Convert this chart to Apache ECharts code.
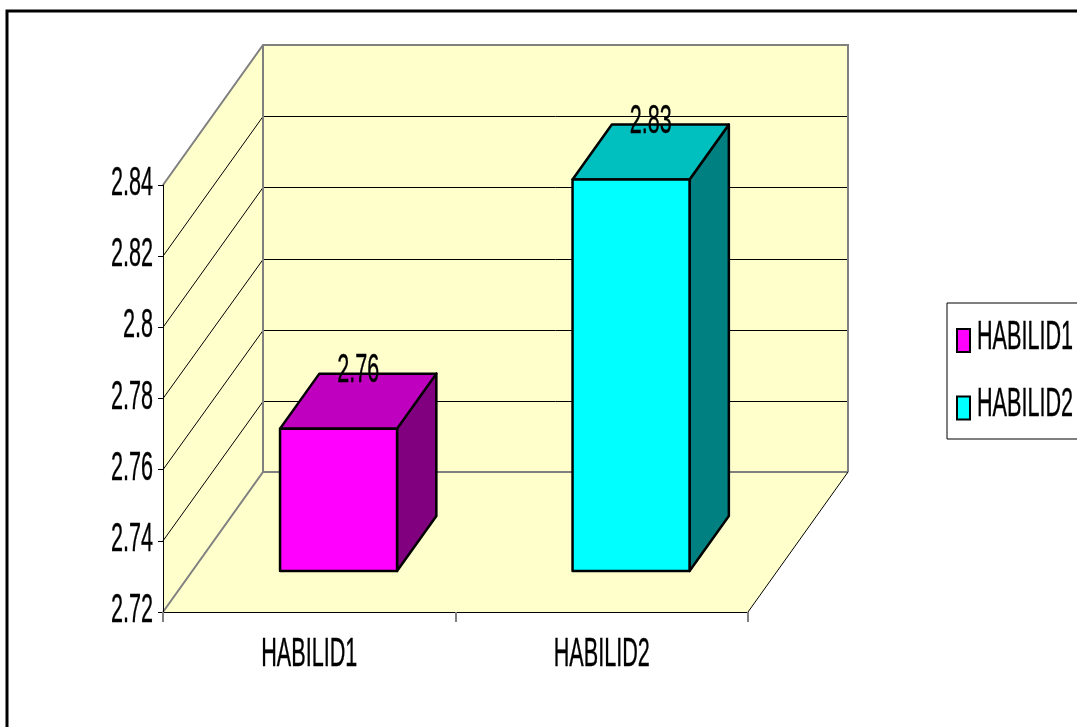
<!DOCTYPE html>
<html>
<head>
<meta charset="utf-8">
<script src="https://cdn.jsdelivr.net/npm/echarts@6/dist/echarts.min.js"></script>
<style>
  html, body { margin: 0; padding: 0; background: #fff; }
  #chart { width: 1077px; height: 727px; }
</style>
</head>
<body>
<div id="chart"></div>
<script>
// ---- data ----
const categories = ['HABILID1', 'HABILID2'];
const means = [2.76, 2.83];
const yTickValues = [2.72, 2.74, 2.76, 2.78, 2.8, 2.82, 2.84];

// ---- styling / geometry constants ----
const FONT = "'Liberation Sans', Arial, sans-serif";
const FONT_SIZE = 40;
const TEXT_SCALE_X = 0.54;          // tall, condensed lettering
const WALL_FILL = '#FFFFCC';
const EDGE_GRAY = '#808080';
const DEPTH = [100, -140];          // pixel offset from the front plane to the back wall
const BAR_NEAR = 0.293;             // bar front face, as a fraction of DEPTH
const BAR_FAR = 0.686;              // bar back face, as a fraction of DEPTH
const BAR_WIDTH = 0.4;              // bar width as a fraction of the category band
const faceColors = [
  { front: '#FF00FF', top: '#BF00BF', side: '#800080' },
  { front: '#00FFFF', top: '#00BFBF', side: '#008080' }
];

const yMin = yTickValues[0];
const yMax = yTickValues[yTickValues.length - 1];
const yStep = +(yTickValues[1] - yTickValues[0]).toFixed(6);

// condensed text element anchored at (x, y)
function label(text, x, y, align) {
  return {
    type: 'text', x: x, y: y, scaleX: TEXT_SCALE_X, scaleY: 1, z2: 20,
    style: { text: text, x: 0, y: 0, textAlign: align, textVerticalAlign: 'middle',
      fontFamily: FONT, fontSize: FONT_SIZE, fill: '#000', stroke: '#000', lineWidth: 0.4 }
  };
}
const crisp = y => Math.round(y) + 0.5;

// Back wall, side wall, floor and their gridlines
function renderWalls(params, api) {
  const cs = params.coordSys;
  const x0 = cs.x, x1 = cs.x + cs.width;
  const yAt = v => api.coord([0, v])[1];
  const yLo = yAt(yMin), yHi = yAt(yMax);
  const dx = DEPTH[0], dy = DEPTH[1];
  const kids = [];
  kids.push({ type: 'polygon', shape: { points: [[x0, yLo], [x1, yLo], [x1 + dx, yLo + dy], [x0 + dx, yLo + dy]] },
    style: { fill: WALL_FILL, stroke: null } });
  kids.push({ type: 'polygon', shape: { points: [[x0, yLo], [x0, yHi], [x0 + dx, yHi + dy], [x0 + dx, yLo + dy]] },
    style: { fill: WALL_FILL, stroke: null } });
  kids.push({ type: 'rect', shape: { x: x0 + dx, y: yHi + dy, width: x1 - x0, height: yLo - yHi },
    style: { fill: WALL_FILL, stroke: null } });
  yTickValues.slice(1, -1).forEach(v => {
    const y = yAt(v);
    const yb = crisp(y + dy);
    kids.push({ type: 'polyline', shape: { points: [[x0, y], [x0 + dx, yb], [x1 + dx, yb]] },
      style: { fill: null, stroke: '#000', lineWidth: 1 } });
  });
  // outer edges of the box
  kids.push({ type: 'polyline', shape: { points: [[x0, yHi], [x0 + dx, yHi + dy], [x1 + dx, yHi + dy], [x1 + dx, yLo + dy]] },
    style: { fill: null, stroke: EDGE_GRAY, lineWidth: 2 } });
  kids.push({ type: 'line', shape: { x1: x0 + dx, y1: yHi + dy, x2: x0 + dx, y2: yLo + dy },
    style: { stroke: EDGE_GRAY, lineWidth: 2 } });
  kids.push({ type: 'polyline', shape: { points: [[x0, yLo], [x0 + dx, yLo + dy], [x1 + dx, yLo + dy]] },
    style: { fill: null, stroke: EDGE_GRAY, lineWidth: 2 } });
  kids.push({ type: 'line', shape: { x1: x1, y1: yLo, x2: x1 + dx, y2: yLo + dy },
    style: { stroke: '#000', lineWidth: 1 } });
  return { type: 'group', children: kids };
}

// Tick and category labels, placed with the axes' own scales
function renderAxisLabels(params, api) {
  const cs = params.coordSys;
  const kids = [];
  yTickValues.forEach(v => {
    kids.push(label(String(v), cs.x - 10, api.coord([0, v])[1] - 1, 'right'));
  });
  categories.forEach((c, i) => {
    const p = api.coord([i, yMin]);
    kids.push(label(c, p[0], p[1] + 43, 'center'));
  });
  return { type: 'group', children: kids };
}

// A 3D column: front, top and right faces plus its value label
function makeBarRenderer(colors) {
  return function (params, api) {
    const i = api.value(0), v = api.value(1);
    const top = api.coord([i, v]);
    const base = api.coord([i, yMin]);
    const w = api.size([1, 0])[0] * BAR_WIDTH;
    const L = top[0] - w / 2, R = top[0] + w / 2;
    const nx = DEPTH[0] * BAR_NEAR, ny = DEPTH[1] * BAR_NEAR;
    const fx = DEPTH[0] * BAR_FAR, fy = DEPTH[1] * BAR_FAR;
    const yT = top[1], yB = base[1];
    const stroke = { stroke: '#000', lineWidth: 2.5, lineJoin: 'round' };
    return {
      type: 'group',
      children: [
        { type: 'polygon', shape: { points: [[R + nx, yT + ny], [R + fx, yT + fy], [R + fx, yB + fy], [R + nx, yB + ny]] },
          style: Object.assign({ fill: colors.side }, stroke) },
        { type: 'polygon', shape: { points: [[L + nx, yT + ny], [R + nx, yT + ny], [R + fx, yT + fy], [L + fx, yT + fy]] },
          style: Object.assign({ fill: colors.top }, stroke) },
        { type: 'rect', shape: { x: L + nx, y: yT + ny, width: w, height: yB - yT },
          style: Object.assign({ fill: colors.front }, stroke) },
        label(String(v), top[0] + (nx + fx) / 2, yT + fy - 3, 'center')
      ]
    };
  };
}

// Legend box drawn at the right edge
function legendGraphic() {
  const left = 947, top = 303;
  const kids = [{
    type: 'rect', shape: { x: left, y: top, width: 200, height: 136 },
    style: { fill: '#fff', stroke: '#000', lineWidth: 1 }
  }];
  categories.forEach((c, i) => {
    const y0 = top + 26 + i * 67.5;
    kids.push({ type: 'rect', shape: { x: left + 10, y: y0, width: 13, height: 23 },
      style: { fill: faceColors[i].front, stroke: '#000', lineWidth: 2 } });
    kids.push(label(c, left + 30, y0 + 8.5, 'left'));
  });
  return { type: 'group', silent: true, children: kids };
}

const chart = echarts.init(document.getElementById('chart'), null, { renderer: 'canvas' });

const barSeries = categories.map((name, i) => ({
  type: 'custom',
  name: name,
  data: [[i, means[i]]],
  encode: { x: 0, y: 1 },
  renderItem: makeBarRenderer(faceColors[i]),
  itemStyle: { color: faceColors[i].front },
  clip: false,
  z: 3
}));

chart.setOption({
  animation: false,
  backgroundColor: '#fff',
  textStyle: { fontFamily: FONT },
  grid: { left: 163, right: 329, top: 185, bottom: 115, containLabel: false },
  xAxis: {
    type: 'category',
    data: categories,
    z: 5,
    axisLine: { show: true, lineStyle: { color: '#000', width: 1 } },
    axisTick: { show: true, length: 10, lineStyle: { color: EDGE_GRAY, width: 2 } },
    axisLabel: { show: false },
    splitLine: { show: false }
  },
  yAxis: {
    type: 'value',
    min: yMin,
    max: yMax,
    interval: yStep,
    z: 5,
    axisLine: { show: true, lineStyle: { color: '#000', width: 1 } },
    axisTick: { show: true, length: 5, lineStyle: { color: '#000', width: 1 } },
    axisLabel: { show: false },
    splitLine: { show: false }
  },
  graphic: [
    {
      type: 'rect',
      silent: true,
      shape: { x: 7, y: 11, width: 1100, height: 740 },
      style: { fill: null, stroke: '#000', lineWidth: 3 }
    },
    legendGraphic()
  ],
  series: [{
    type: 'custom',
    name: 'walls',
    data: [[0, yMin]],
    encode: { x: 0, y: 1 },
    renderItem: renderWalls,
    silent: true,
    clip: false,
    z: 1
  }, {
    type: 'custom',
    name: 'axis labels',
    data: [[0, yMin]],
    encode: { x: 0, y: 1 },
    renderItem: renderAxisLabels,
    silent: true,
    clip: false,
    z: 6
  }].concat(barSeries)
});
</script>
</body>
</html>
